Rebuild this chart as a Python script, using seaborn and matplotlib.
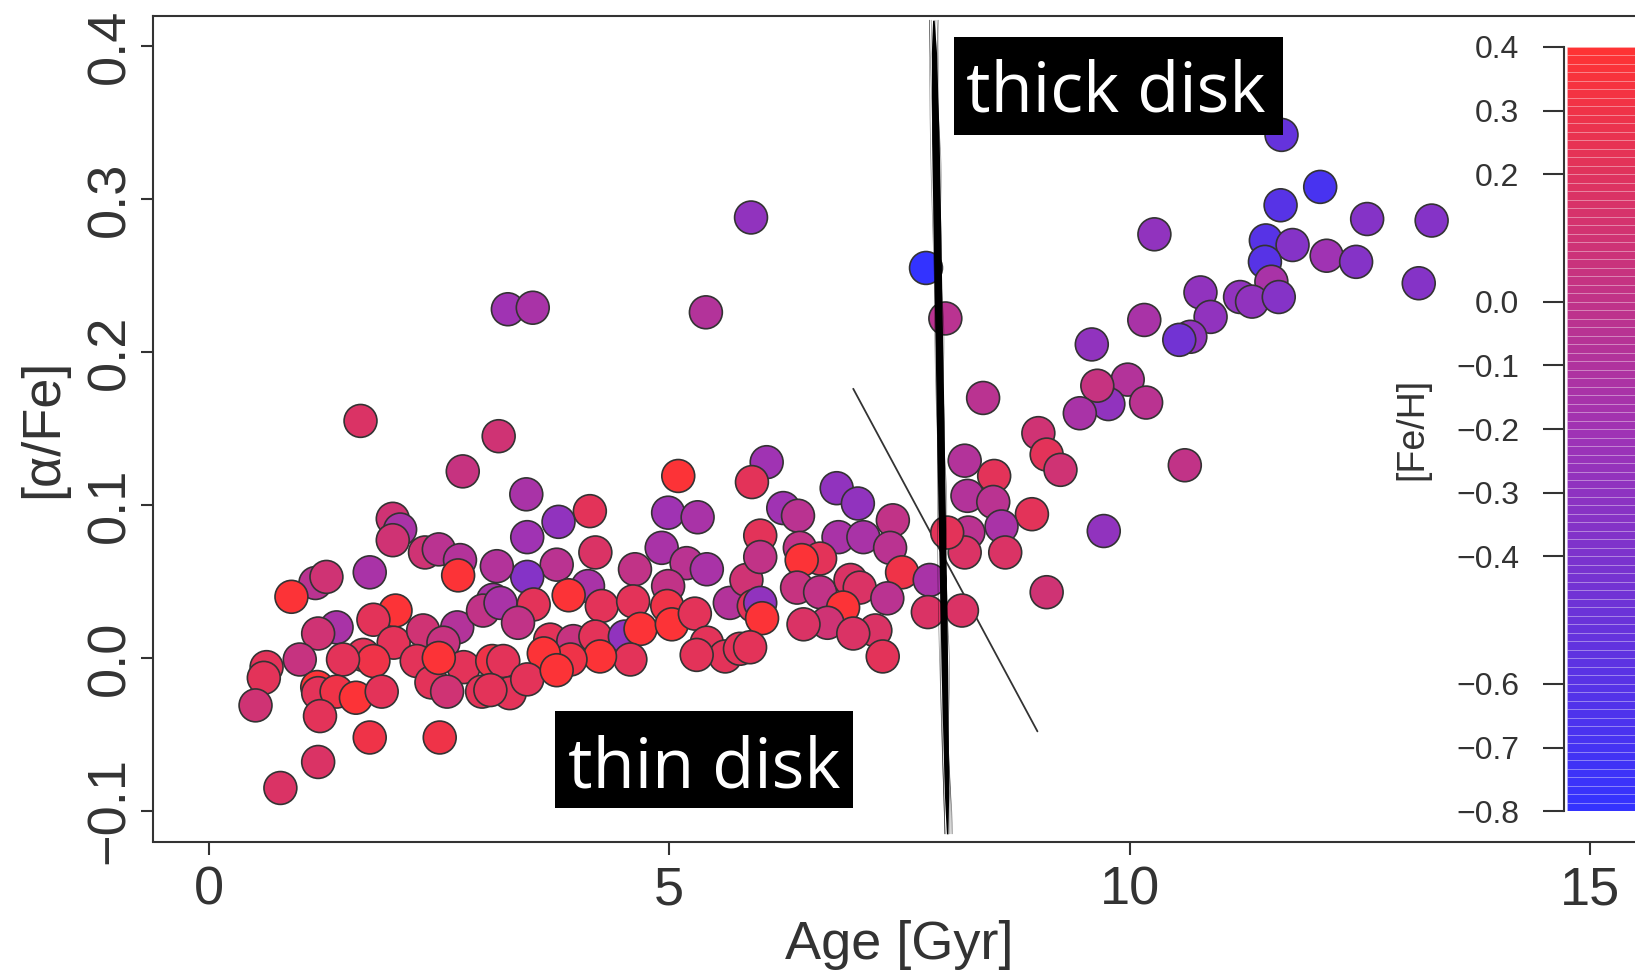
import numpy as np
import pandas as pd
import matplotlib
matplotlib.use("Agg")
import matplotlib.pyplot as plt
from matplotlib.colors import LinearSegmentedColormap, Normalize
from matplotlib.patches import Rectangle
import seaborn as sns

# ---------------------------------------------------------------- data
# thin-disk stars: age [Gyr], [alpha/Fe], [Fe/H]
thin_age = [2.00, 2.08, 2.00, 2.35, 2.50, 2.73, 2.71, 1.16, 1.28, 1.75,
            0.90, 2.03, 1.79, 1.39, 1.19, 2.01, 2.33, 2.70, 2.55, 2.26,
            2.77, 1.68, 1.79, 1.46, 0.99, 0.63, 0.60, 1.18, 1.19, 1.39,
            1.60, 1.88, 2.42, 2.59, 2.97, 0.51, 1.21, 1.75, 2.51, 1.19,
            0.78, 3.09, 2.98, 3.08, 2.50,
            4.14, 3.80, 4.99, 5.31, 3.46, 4.20, 3.78, 3.46, 3.13, 4.92,
            4.63, 5.19, 5.41, 4.99, 4.12, 3.91, 3.17, 3.53, 4.27, 4.61,
            4.98, 5.66, 5.84, 5.92, 3.36, 3.71, 3.96, 4.20, 4.52, 4.69,
            5.03, 5.28, 5.41, 5.61, 5.77, 5.30, 4.58, 4.25, 3.93, 3.64,
            3.20, 3.27, 3.46, 3.06, 3.78,
            6.82, 7.05, 6.24, 6.40, 7.43, 5.99, 6.84, 7.11, 6.42, 6.64,
            7.40, 6.44, 7.53, 7.83, 5.99, 6.39, 6.64, 6.97, 7.07, 7.37,
            6.89, 6.72, 6.46, 7.24, 7.00, 7.81, 7.32, 5.99, 6.01, 5.88]
thin_alpha = [0.091, 0.084, 0.077, 0.069, 0.071, 0.064, 0.054, 0.049, 0.053, 0.056,
              0.040, 0.031, 0.025, 0.020, 0.016, 0.010, 0.018, 0.020, 0.010, -0.002,
              -0.006, 0.002, -0.002, -0.001, -0.001, -0.006, -0.013, -0.019, -0.023, -0.022,
              -0.026, -0.022, -0.016, -0.022, -0.022, -0.031, -0.038, -0.052, -0.052, -0.068,
              -0.085, 0.038, 0.031, -0.002, 0.000,
              0.096, 0.089, 0.095, 0.092, 0.079, 0.069, 0.061, 0.053, 0.060, 0.072,
              0.058, 0.062, 0.058, 0.047, 0.047, 0.041, 0.036, 0.035, 0.034, 0.037,
              0.034, 0.036, 0.051, 0.034, 0.023, 0.012, 0.011, 0.014, 0.014, 0.019,
              0.022, 0.029, 0.010, 0.001, 0.006, 0.002, -0.001, 0.001, -0.001, 0.003,
              -0.002, -0.023, -0.014, -0.021, -0.008,
              0.111, 0.101, 0.098, 0.093, 0.090, 0.080, 0.079, 0.079, 0.072, 0.065,
              0.072, 0.064, 0.056, 0.051, 0.066, 0.046, 0.043, 0.051, 0.046, 0.039,
              0.033, 0.023, 0.022, 0.018, 0.016, 0.030, 0.001, 0.036, 0.026, 0.007]
thin_feh = [0.10, -0.14, 0.10, 0.10, -0.04, -0.08, 0.38, -0.04, 0.10, -0.14,
            0.38, 0.38, 0.22, -0.14, 0.10, 0.22, 0.10, -0.08, 0.04, 0.22,
            0.22, 0.22, 0.30, 0.22, 0.04, 0.22, 0.22, 0.38, 0.22, 0.30,
            0.38, 0.22, 0.22, 0.10, 0.22, 0.10, 0.22, 0.30, 0.30, 0.17,
            0.17, -0.14, 0.01, 0.30, 0.38,
            0.22, -0.28, -0.20, -0.14, -0.20, 0.17, -0.04, -0.35, -0.08, -0.14,
            0.01, -0.04, -0.14, 0.01, -0.14, 0.38, -0.14, 0.22, 0.22, 0.22,
            0.30, -0.08, 0.10, 0.22, 0.01, 0.22, 0.04, 0.22, -0.28, 0.38,
            0.38, 0.22, 0.22, 0.22, 0.22, 0.22, 0.22, 0.38, 0.30, 0.38,
            0.22, 0.22, 0.22, 0.22, 0.38,
            -0.28, -0.28, -0.20, -0.04, 0.01, 0.22, -0.14, -0.14, 0.01, 0.22,
            -0.04, 0.38, 0.30, -0.14, 0.01, 0.04, 0.01, 0.17, 0.17, -0.04,
            0.38, 0.10, 0.17, 0.17, 0.17, 0.17, 0.22, -0.28, 0.38, 0.22]

# high-[alpha/Fe] stars above the thin-disk sequence
high_age = [5.89, 3.25, 3.52, 5.40, 7.79, 8.00, 1.65, 3.15, 2.76, 6.06,
            5.10, 5.90, 3.45]
high_alpha = [0.288, 0.228, 0.229, 0.226, 0.255, 0.222, 0.155, 0.145, 0.122, 0.128,
              0.119, 0.115, 0.107]
high_feh = [-0.28, -0.20, -0.14, -0.08, -0.80, -0.04, 0.17, 0.10, 0.04, -0.20,
            0.38, 0.22, -0.14]

# thick-disk stars
thick_age = [11.65, 12.07, 11.64, 12.58, 13.28, 10.27, 11.48, 11.77, 12.14, 12.46,
             11.47, 11.54, 13.14, 10.77, 11.20, 11.33, 11.62, 10.88, 10.66, 10.54,
             10.16, 9.59, 9.98, 9.77, 9.65, 9.46, 10.18, 8.41, 9.01, 9.10,
             9.25, 10.60, 8.21, 8.53, 8.24, 8.52, 8.94, 8.25, 8.61, 8.21,
             8.65, 9.72, 9.10, 8.18, 8.02]
thick_alpha = [0.342, 0.308, 0.296, 0.287, 0.286, 0.277, 0.273, 0.270, 0.263, 0.259,
               0.259, 0.246, 0.245, 0.239, 0.236, 0.233, 0.236, 0.223, 0.210, 0.208,
               0.221, 0.205, 0.182, 0.166, 0.178, 0.160, 0.167, 0.170, 0.147, 0.133,
               0.123, 0.126, 0.129, 0.119, 0.106, 0.102, 0.094, 0.082, 0.086, 0.069,
               0.069, 0.083, 0.043, 0.031, 0.082]
thick_feh = [-0.52, -0.68, -0.60, -0.35, -0.35, -0.28, -0.60, -0.35, -0.20, -0.35,
             -0.60, -0.14, -0.35, -0.28, -0.28, -0.28, -0.35, -0.28, -0.28, -0.45,
             -0.14, -0.28, -0.08, -0.28, 0.04, -0.14, -0.04, -0.04, 0.10, 0.22,
             0.10, 0.01, -0.08, 0.22, -0.08, -0.04, 0.22, -0.04, -0.14, 0.17,
             0.17, -0.28, 0.10, 0.17, 0.22]

x_ticks = [0, 5, 10, 15]
y_ticks = [-0.1, 0.0, 0.1, 0.2, 0.3, 0.4]
y_tick_labels = ["\u22120.1", "0.0", "0.1", "0.2", "0.3", "0.4"]
cbar_ticks = [0.4, 0.3, 0.2, 0.0, -0.1, -0.2, -0.3, -0.4, -0.6, -0.7, -0.8]
cbar_tick_labels = ["0.4", "0.3", "0.2", "0.0", "\u22120.1", "\u22120.2", "\u22120.3",
                    "\u22120.4", "\u22120.6", "\u22120.7", "\u22120.8"]
feh_range = (-0.8, 0.4)

# hand-drawn separators between the two disk populations
divider_age = [7.0, 9.0]
divider_alpha = [0.176, -0.048]
boundary_age = [7.87, 8.02]
boundary_alpha = [0.417, -0.115]

df = pd.DataFrame({
    "age": thin_age + high_age + thick_age,
    "alpha_fe": thin_alpha + high_alpha + thick_alpha,
    "fe_h": thin_feh + high_feh + thick_feh,
})

# ---------------------------------------------------------------- style
sns.set_style("ticks")
plt.rcParams["font.family"] = ["Liberation Sans", "DejaVu Sans"]
ink = "#333333"

W, H = 1635, 972
fig = plt.figure(figsize=(W / 100, H / 100), dpi=100)
fig.patch.set_facecolor("white")

# main panel; the frame runs past the right edge of the canvas
ax = fig.add_axes([153.3 / W, 1 - 841.5 / H, (1645.3 - 153.3) / W, (841.5 - 15.6) / H])

# blue -> violet -> red ramp for [Fe/H]
cmap = LinearSegmentedColormap.from_list(
    "fe_h", [(0.0, "#3333FF"), (0.5, "#A033B4"), (1.0, "#FF3333")])
norm = Normalize(*feh_range)

# divider line sits underneath the stars
ax.plot(divider_age, divider_alpha, color=ink, lw=1.3, zorder=2)

sns.scatterplot(data=df, x="age", y="alpha_fe", hue="fe_h", palette=cmap,
                hue_norm=norm, s=560, edgecolor=ink, linewidth=1.2,
                legend=False, ax=ax, zorder=3)

# marker-pen boundary drawn over the stars
t = np.linspace(0, 1, 300)
bx = boundary_age[0] + (boundary_age[1] - boundary_age[0]) * t
by = boundary_alpha[0] + (boundary_alpha[1] - boundary_alpha[0]) * t
px = 1 / 92.1  # one pixel in age units
half_w = np.interp(t, [0, 0.04, 0.15, 0.5, 0.8, 0.95, 1.0],
                   [0.8, 2.6, 3.8, 3.8, 3.3, 2.2, 0.8]) * px
ax.fill_betweenx(by, bx - half_w, bx + half_w, color="black", lw=0, zorder=4)
for k, off in enumerate([-5.0, -4.0, -3.2, 3.2, 4.2, 5.2]):
    wig = off * (0.75 + 0.25 * np.sin(t * (11 + 4 * k) + 1.7 * k)) * px
    ax.plot(bx + wig, by, color="black", lw=0.5, alpha=0.45, zorder=4)

ax.set_xlim(-0.6, 15.6)
ax.set_ylim(-0.12, 0.42)
ax.set_xticks(x_ticks)
ax.set_yticks(y_ticks, labels=y_tick_labels)
for side in ax.spines.values():
    side.set_visible(True)
    side.set_linewidth(1.5)
    side.set_color(ink)
ax.tick_params(axis="both", length=9, width=1.5, color=ink, labelsize=39,
               labelcolor=ink)
ax.tick_params(axis="x", pad=8)
ax.tick_params(axis="y", pad=4, labelrotation=90)
for lab in ax.get_yticklabels():
    lab.set_verticalalignment("center")

ax.set_xlabel("Age [Gyr]", fontsize=39, color=ink)
ax.xaxis.set_label_coords(0.5, -0.0946)
ax.set_ylabel("[\u03b1/Fe]", fontsize=39, color=ink)
ax.yaxis.set_label_coords(-0.0573, 0.5)

# population labels
ax.add_patch(Rectangle((8.094, 0.342), 11.661 - 8.094, 0.406 - 0.342,
                       facecolor="black", edgecolor="none", zorder=5))
ax.text((8.094 + 11.661) / 2 - 0.03, 0.357, "thick disk", color="white",
        fontsize=49.5, family="Open Sans", ha="center", va="baseline", zorder=6)
ax.add_patch(Rectangle((3.759, -0.098), 7.0 - 3.759, -0.0347 + 0.098,
                       facecolor="black", edgecolor="none", zorder=5))
ax.text((3.759 + 7.0) / 2, -0.0844, "thin disk", color="white",
        fontsize=49.5, family="Open Sans", ha="center", va="baseline", zorder=6)

# colour scale for [Fe/H], drawn inside the frame at the right
cax = fig.add_axes([1567.3 / W, 1 - 811.2 / H, 140 / W, (811.2 - 46.9) / H])
edges = np.linspace(feh_range[0], feh_range[1], 91)
mids = 0.5 * (edges[:-1] + edges[1:])
cax.barh(mids, 1.0, height=np.diff(edges), left=0, color=cmap(norm(mids)),
         edgecolor=(1, 1, 1, 0.22), linewidth=0.5)
cax.set_xlim(0, 1)
cax.set_ylim(*feh_range)
cax.set_xticks([])
for name in ["top", "right", "bottom"]:
    cax.spines[name].set_visible(False)
cax.spines["left"].set_position(("outward", 2.5))
cax.spines["left"].set_linewidth(1.5)
cax.spines["left"].set_color(ink)
cax.set_yticks(cbar_ticks, labels=cbar_tick_labels)
cax.tick_params(axis="y", left=True, right=False, length=15, width=1.5,
                color=ink, labelsize=23, labelcolor=ink, pad=17)
cax.set_ylabel("[Fe/H]", fontsize=27, color=ink)
cax.yaxis.set_label_coords(-0.977, 0.5)

fig.savefig("out.png", dpi=100)
